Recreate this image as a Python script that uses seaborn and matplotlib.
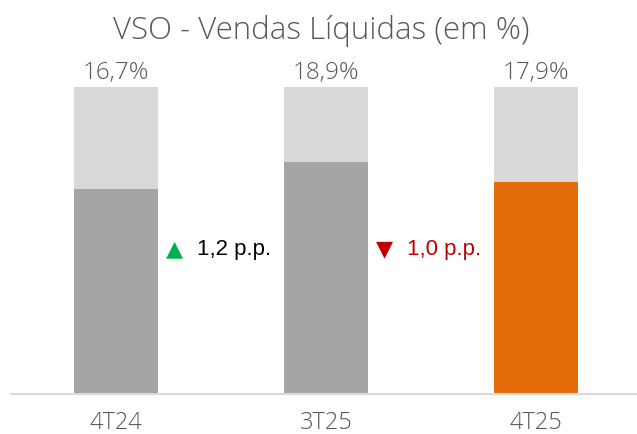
import matplotlib
matplotlib.use("Agg")
import matplotlib.pyplot as plt
import pandas as pd
import seaborn as sns

# chart data
periods = ["4T24", "3T25", "4T25"]
vso_labels = ["16,7%", "18,9%", "17,9%"]
vso_fill = [16.7, 18.9, 17.3]      # filled height as drawn in the picture
vso_scale = [25.0, 25.0, 25.0]     # light grey background bar
fill_colors = ["#A5A5A5", "#A5A5A5", "#E46C0A"]
deltas = ["1,2 p.p.", "1,0 p.p."]
delta_up = [True, False]

sns.set_theme(style="white")
plt.rcParams["font.family"] = ["Open Sans", "DejaVu Sans"]

df = pd.DataFrame({"periodo": periods, "fill": vso_fill, "scale": vso_scale})

fig = plt.figure(figsize=(6.37, 4.34), dpi=100)
ax = fig.add_axes([11 / 637, 40 / 434, 626 / 637, 394 / 434])

sns.barplot(data=df, x="periodo", y="scale", color="#D9D9D9", width=0.4,
            saturation=1, linewidth=0, ax=ax)
sns.barplot(data=df, x="periodo", y="fill", hue="periodo", palette=fill_colors,
            width=0.4, saturation=1, linewidth=0, legend=False, ax=ax)

ax.set_xlim(-0.5, 2.48)
ax.set_ylim(0, 32.08)
ax.set_xlabel("")
ax.set_ylabel("")
ax.set_yticks([])
sns.despine(ax=ax, left=True, top=True, right=True)
ax.spines["bottom"].set_color("#D9D9D9")
ax.spines["bottom"].set_linewidth(1.5)
ax.tick_params(axis="x", length=0, pad=12, labelsize=17, labelcolor="#595959")
for t in ax.get_xticklabels():
    t.set_fontweight("light")

# value labels above the bars
for i, lab in enumerate(vso_labels):
    ax.text(i, vso_scale[i] + 0.15, lab, ha="center", va="bottom", fontsize=17.5,
            color="#595959", fontweight="light")

# variation between periods
for i, (txt, up) in enumerate(zip(deltas, delta_up)):
    mark = "▲" if up else "▼"
    mcol = "#00B050" if up else "#C00000"
    tcol = "#000000" if up else "#C00000"
    xm = i + 0.5
    ax.text(xm - 0.22, 11.8, mark, ha="center", va="center", fontsize=16,
            color=mcol, family=["DejaVu Sans"])
    ax.text(xm - 0.114, 11.8, txt, ha="left", va="center", fontsize=16,
            color=tcol, family=["Liberation Sans", "DejaVu Sans"])

fig.text(321 / 637, 1 - 31 / 434, "VSO - Vendas Líquidas (em %)", ha="center",
         va="center", fontsize=22.5, color="#595959", fontweight="light")

fig.savefig("out.png", dpi=100)
